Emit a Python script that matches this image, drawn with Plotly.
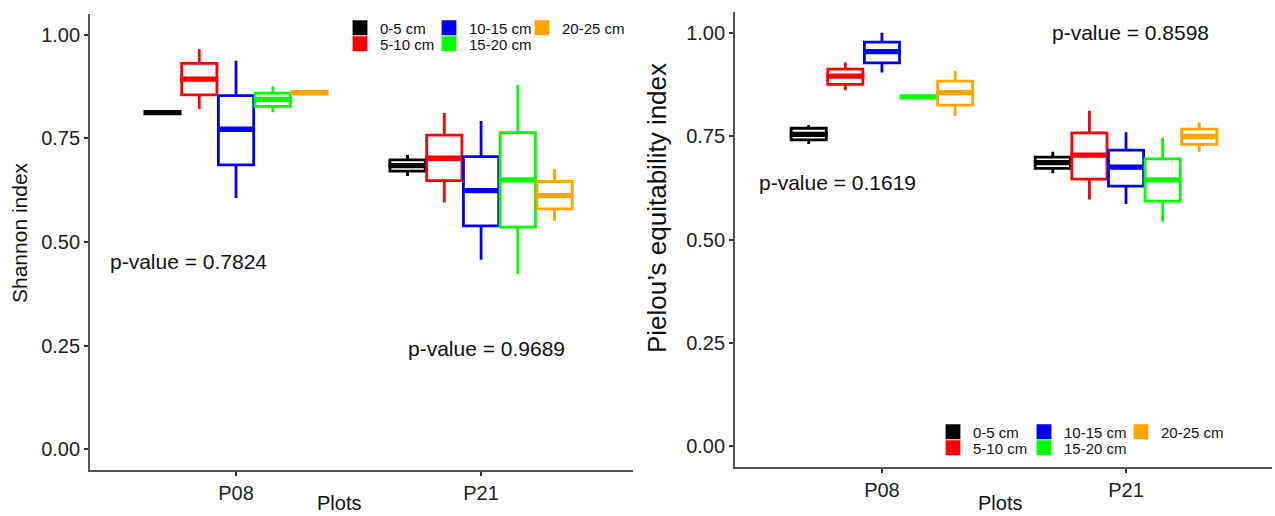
import plotly.graph_objects as go

plots = ["P08", "P21"]
depths = ["0-5 cm", "5-10 cm", "10-15 cm", "15-20 cm", "20-25 cm"]
colors = ["#000000", "#FF0000", "#0000FF", "#00FF00", "#FFA500"]

# Shannon index box statistics, per depth: [P08, P21]
sh_lower = [[0.812, 0.659], [0.821, 0.595], [0.606, 0.457], [0.813, 0.423], [0.860, 0.551]]
sh_q1 = [[0.812, 0.671], [0.855, 0.648], [0.686, 0.539], [0.827, 0.536], [0.860, 0.580]]
sh_median = [[0.812, 0.684], [0.893, 0.702], [0.772, 0.624], [0.844, 0.650], [0.860, 0.612]]
sh_q3 = [[0.812, 0.698], [0.931, 0.758], [0.853, 0.706], [0.859, 0.764], [0.860, 0.646]]
sh_upper = [[0.812, 0.710], [0.965, 0.811], [0.937, 0.792], [0.875, 0.879], [0.860, 0.676]]

# Pielou's equitability index box statistics, per depth: [P08, P21]
pi_lower = [[0.731, 0.660], [0.861, 0.597], [0.904, 0.586], [0.845, 0.543], [0.799, 0.712]]
pi_q1 = [[0.741, 0.672], [0.875, 0.646], [0.927, 0.629], [0.845, 0.593], [0.825, 0.730]]
pi_median = [[0.754, 0.686], [0.895, 0.704], [0.954, 0.675], [0.845, 0.644], [0.855, 0.749]]
pi_q3 = [[0.769, 0.699], [0.912, 0.758], [0.977, 0.716], [0.845, 0.695], [0.883, 0.767]]
pi_upper = [[0.777, 0.712], [0.928, 0.811], [1.000, 0.759], [0.845, 0.746], [0.908, 0.783]]

p_values = ["p-value = 0.7824", "p-value = 0.9689", "p-value = 0.1619", "p-value = 0.8598"]

FONT = "Liberation Sans, Arial, sans-serif"
MEDIAN_HALF = 0.003  # half thickness of the bold median bar (style, in y units)
fig = go.Figure()

panels = [
    ("x", "y", (sh_lower, sh_q1, sh_median, sh_q3, sh_upper), 0),
    ("x2", "y2", (pi_lower, pi_q1, pi_median, pi_q3, pi_upper), 5),
]
for xa, ya, stats, leg0 in panels:
    lo, q1, md, q3, up = stats
    for i, d in enumerate(depths):
        k = leg0 + i + 1
        legname = "legend" if k == 1 else f"legend{k}"
        fig.add_trace(go.Box(
            x=plots, lowerfence=lo[i], q1=q1[i], median=md[i], q3=q3[i], upperfence=up[i],
            name=d, offsetgroup=d, xaxis=xa, yaxis=ya, showlegend=False,
            line=dict(color=colors[i], width=2.8), fillcolor="white",
            whiskerwidth=0, boxpoints=False, hoverinfo="skip",
        ))
        # bold median bar (ggplot style); also carries the filled legend key
        mlo = [m - MEDIAN_HALF for m in md[i]]
        mhi = [m + MEDIAN_HALF for m in md[i]]
        fig.add_trace(go.Box(
            x=plots, lowerfence=mlo, q1=mlo, median=md[i], q3=mhi, upperfence=mhi,
            name=d, offsetgroup=d, xaxis=xa, yaxis=ya, legend=legname, showlegend=True,
            line=dict(color=colors[i], width=2.8), fillcolor=colors[i],
            whiskerwidth=0, boxpoints=False, hoverinfo="skip",
        ))

axis_common = dict(
    showline=True, linecolor="#555555", linewidth=1.8, ticks="outside", ticklen=4,
    tickwidth=1.5, tickcolor="#333333", showgrid=False, zeroline=False,
    tickfont=dict(family=FONT, size=20, color="#222222"),
)
yaxis_common = dict(axis_common, range=[-0.05, 1.05], tickvals=[0, 0.25, 0.5, 0.75, 1.0],
                    ticktext=["0.00", "0.25", "0.50", "0.75", "1.00"])

legend_common = dict(orientation="v", bgcolor="rgba(0,0,0,0)", font=dict(family=FONT, size=15, color="#111111"),
                     itemwidth=30, xanchor="left", yanchor="middle",
                     itemclick=False, itemdoubleclick=False)

# legend entry anchor positions (px): left panel then right panel, in depth order
leg_px = [(340, 28), (340, 44), (429, 28), (429, 44), (522, 28),
          (933, 432), (933, 448), (1024, 432), (1024, 448), (1121, 432)]
legends = {}
for k, (px, py) in enumerate(leg_px, start=1):
    legname = "legend" if k == 1 else f"legend{k}"
    legends[legname] = dict(legend_common, x=px / 1275, y=1 - py / 516)

fig.update_layout(
    width=1275, height=516, margin=dict(l=0, r=0, t=0, b=0),
    paper_bgcolor="white", plot_bgcolor="white",
    boxmode="group", boxgap=0.25, boxgroupgap=0.04,
    xaxis=dict(axis_common, domain=[90 / 1275, 633 / 1275], range=[-0.596, 1.620], anchor="y",
               type="category"),
    yaxis=dict(yaxis_common, domain=[46 / 516, 502 / 516], anchor="x"),
    xaxis2=dict(axis_common, domain=[735 / 1275, 1272 / 1275], range=[-0.602, 1.598], anchor="y2",
                type="category"),
    yaxis2=dict(yaxis_common, domain=[49 / 516, 504 / 516], anchor="x2"),
    showlegend=True,
    **legends,
)

ann_font = dict(family=FONT, size=21, color="#111111")
annotations = [
    dict(text=p_values[0], xref="x domain", yref="y", x=0.033, y=0.452, xanchor="left", yanchor="middle"),
    dict(text=p_values[1], xref="x domain", yref="y", x=0.582, y=0.244, xanchor="left", yanchor="middle"),
    dict(text=p_values[2], xref="x2 domain", yref="y2", x=0.041, y=0.639, xanchor="left", yanchor="middle"),
    dict(text=p_values[3], xref="x2 domain", yref="y2", x=0.587, y=1.0, xanchor="left", yanchor="middle"),
    dict(text="Shannon index", xref="paper", yref="paper", x=19 / 1275, y=1 - 233 / 516, textangle=-90,
         xanchor="center", yanchor="middle"),
    dict(text="Pielou\u2019s equitability index", xref="paper", yref="paper", x=657 / 1275, y=1 - 208 / 516,
         textangle=-90, xanchor="center", yanchor="middle", font=dict(family=FONT, size=26, color="#111111")),
    dict(text="Plots", xref="paper", yref="paper", x=339 / 1275, y=0, xanchor="center", yanchor="bottom",
         font=dict(family=FONT, size=20, color="#111111")),
    dict(text="Plots", xref="paper", yref="paper", x=1000 / 1275, y=0, xanchor="center", yanchor="bottom",
         font=dict(family=FONT, size=20, color="#111111")),
]
for a in annotations:
    a.setdefault("font", ann_font)
    a["showarrow"] = False
fig.update_layout(annotations=annotations)

fig.write_html("out.html", config={"displayModeBar": False},
               post_script="document.body.style.margin='0px';")
